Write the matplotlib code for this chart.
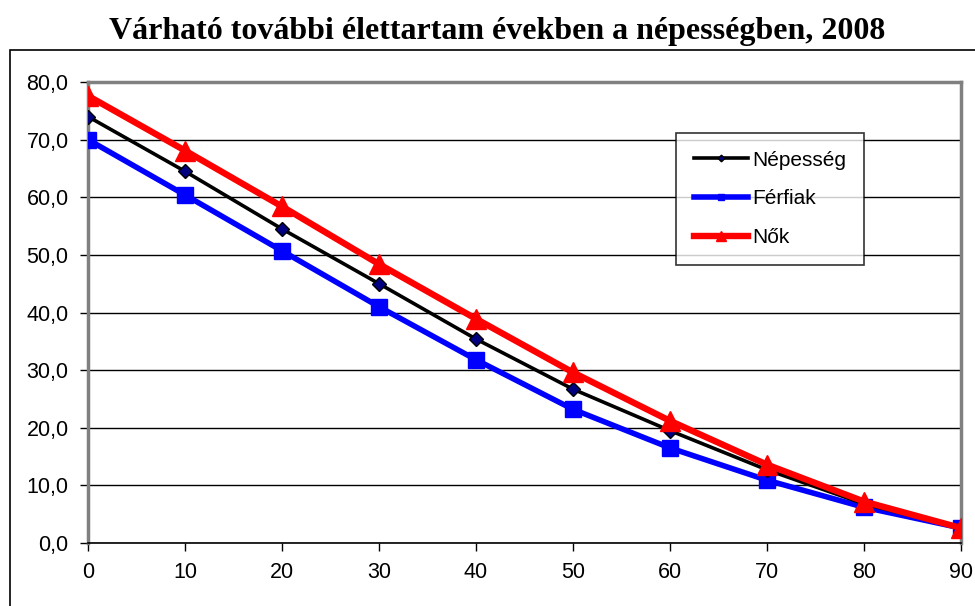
import matplotlib.pyplot as plt
from matplotlib.patches import Rectangle
from matplotlib.ticker import FuncFormatter

ages = [0, 10, 20, 30, 40, 50, 60, 70, 80, 90]
nepesseg = [74.0, 64.5, 54.5, 45.0, 35.4, 26.7, 19.5, 12.7, 6.8, 2.6]
ferfiak = [70.0, 60.4, 50.7, 41.0, 31.8, 23.2, 16.5, 10.9, 6.2, 2.6]
nok = [77.6, 68.1, 58.4, 48.4, 38.9, 29.6, 21.2, 13.6, 7.2, 2.6]

title = 'Várható további élettartam években a népességben, 2008'

fig = plt.figure(figsize=(9.75, 6.06), dpi=100)
ax = fig.add_axes([88/975, 1 - 543/606, (961 - 88)/975, (543 - 82)/606])

# outer chart border, cut off at right and bottom like the original
fig.add_artist(Rectangle((10/975, -0.2), 1.2, 0.2 + 1 - 50/606, transform=fig.transFigure,
                         fill=False, edgecolor='black', linewidth=1.2, clip_on=False))

fig.text(0.51, 1 - 31/606, title, ha='center', va='center',
         family='Liberation Serif', weight='bold', fontsize=23)

ax.plot(ages, nepesseg, color='black', linewidth=2.6, marker='D', markersize=7.5,
        markerfacecolor='#000080', markeredgecolor='black', label='Népesség', zorder=4)
ax.plot(ages, ferfiak, color='#0000ff', linewidth=4, marker='s', markersize=11,
        label='Férfiak', zorder=3)
ax.plot(ages, nok, color='#ff0000', linewidth=4.6, marker='^', markersize=15,
        label='Nők', zorder=5)

ax.set_xlim(0, 90)
ax.set_ylim(0, 80)
ax.set_xticks(ages)
ax.set_yticks(range(0, 81, 10))
ax.yaxis.set_major_formatter(FuncFormatter(lambda v, p: f'{v:.1f}'.replace('.', ',')))
ax.yaxis.grid(True, color='black', linewidth=1)
ax.set_axisbelow(True)

for s in ['top', 'right', 'left']:
    ax.spines[s].set_color('#808080')
    ax.spines[s].set_linewidth(2.5)
ax.spines['bottom'].set_color('black')
ax.spines['bottom'].set_linewidth(1.2)
ax.tick_params(axis='both', direction='out', length=6, width=1, color='black',
               labelsize=15.5)
ax.tick_params(axis='x', pad=8)
ax.tick_params(axis='y', pad=8)
for lab in ax.get_xticklabels() + ax.get_yticklabels():
    lab.set_family('Liberation Sans')

leg = ax.legend(loc='upper left', bbox_to_anchor=((676 - 88)/873, 1 - (133 - 82)/461),
                frameon=True, fancybox=False, prop={'family': 'Liberation Sans', 'size': 15},
                handlelength=2.6, handletextpad=0.2, labelspacing=0.95, borderpad=0.85,
                markerscale=0.45, borderaxespad=0)
leg.get_frame().set_edgecolor('black')
leg.get_frame().set_linewidth(1.2)

fig.savefig('out.png', dpi=100)
